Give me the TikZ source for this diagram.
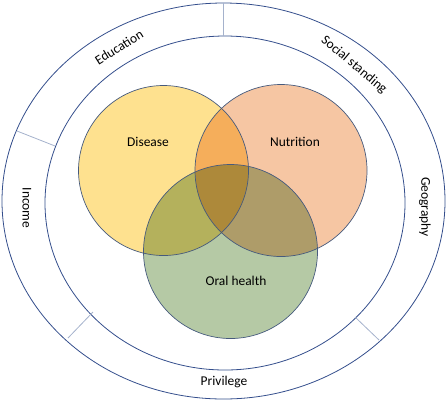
\documentclass[tikz,border=0pt]{standalone}
\usepackage{fontspec}
\setmainfont{Carlito}
\definecolor{ringblue}{RGB}{52,78,140}
\definecolor{divgray}{RGB}{165,178,204}
\definecolor{circline}{RGB}{70,90,125}
\definecolor{cyellow}{RGB}{254,225,143}
\definecolor{cpeach}{RGB}{246,198,163}
\definecolor{cgreen}{RGB}{181,201,165}
\tikzset{
  ring/.style={draw=ringblue, line width=0.8bp},
  divider/.style={draw=divgray, line width=0.8bp},
  venn/.style={circle, draw=circline, line width=0.7bp, minimum size=#1, inner sep=0pt},
  lbl/.style={font=\fontsize{13.5}{15}\selectfont, text=black, inner sep=0pt}
}
\begin{document}
\begin{tikzpicture}[x=1bp,y=-1bp]
\useasboundingbox (0,0) rectangle (447,401);
% rings
\draw[ring] (223.5,201) ellipse [x radius=221.5, y radius=198];
\draw[ring] (225,203) ellipse [x radius=180, y radius=167];
% dividers
\draw[divider] (223,3) -- (223,36);
\draw[divider] (17,131) -- (55,146);
\draw[divider] (68,338) -- (93,312);
\draw[divider] (379,340) -- (355,317);
% venn fills
\begin{scope}[blend group=multiply]
\fill[cyellow] (163.5,170.5) circle [radius=85];
\fill[cpeach] (281,170.5) circle [radius=86];
\fill[cgreen] (230.5,251.5) circle [radius=87];
\end{scope}
% venn outlines
\node[venn=170bp] (disease) at (163.5,170.5) {};
\node[venn=172bp] (nutrition) at (281,170.5) {};
\node[venn=174bp] (oral) at (230.5,251.5) {};
% labels
\node[lbl] (tdis) at (148,142) {Disease};
\node[lbl] (tnut) at (295,142) {Nutrition};
\node[lbl] (tora) at (236,281) {Oral health};
\node[lbl, rotate=32] (tedu) at (119,47) {Education};
\node[lbl, rotate=-40] (tsoc) at (354,65) {Social standing};
\node[lbl, rotate=-90] (tinc) at (27,208) {Income};
\node[lbl, rotate=-90] (tgeo) at (425,207) {Geography};
\node[lbl] (tpri) at (224,382) {Privilege};
\end{tikzpicture}
\end{document}
